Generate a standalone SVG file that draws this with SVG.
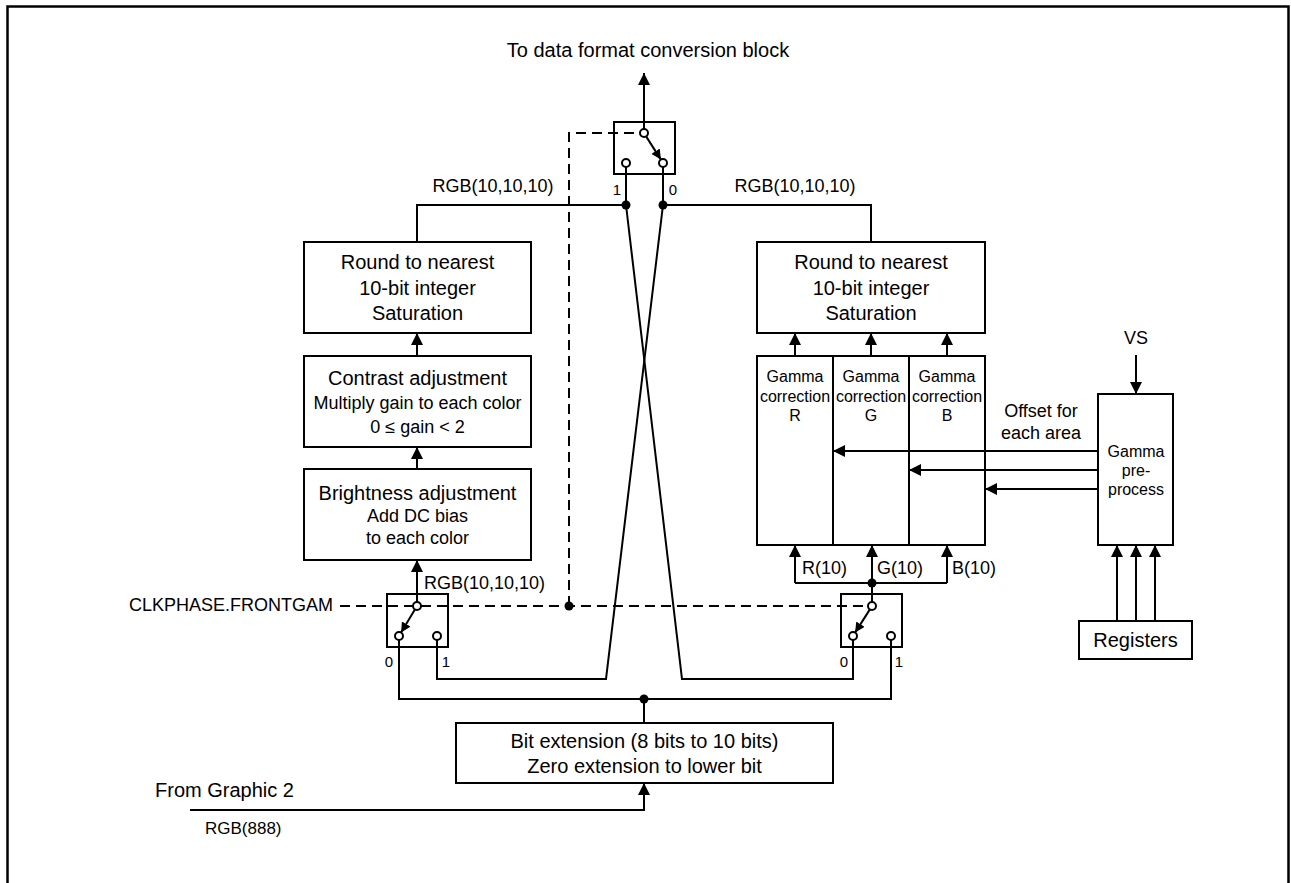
<svg xmlns="http://www.w3.org/2000/svg" width="1291" height="883" viewBox="0 0 1291 883">
<style>
.box{fill:#fff;stroke:#000;stroke-width:2}
.ln{fill:none;stroke:#000;stroke-width:2}
.dash{fill:none;stroke:#000;stroke-width:2;stroke-dasharray:10,6}
.term{fill:#fff;stroke:#000;stroke-width:2}
.dot{fill:#000}
text{font-family:"Liberation Sans",Arial,sans-serif;fill:#000}
.t20{font-size:20px;text-anchor:middle}
.t18{font-size:18px;text-anchor:middle}
.t16{font-size:16px;text-anchor:middle}
.t15{font-size:15px;text-anchor:middle}
.l18{font-size:18px}
</style>
<defs>
<marker id="ah" markerUnits="userSpaceOnUse" markerWidth="12" markerHeight="12" refX="12" refY="6" orient="auto">
<path d="M0,0 L12,6 L0,12 z" fill="#000"/>
</marker>
<marker id="ahs" markerUnits="userSpaceOnUse" markerWidth="10" markerHeight="10" refX="10" refY="5" orient="auto">
<path d="M0,0 L10,5 L0,10 z" fill="#000"/>
</marker>
</defs>
<rect width="1291" height="883" fill="#fff"/>
<path d="M7.5,883 V6.5 H1288.5 V883" fill="none" stroke="#000" stroke-width="2.5"/>

<g id="title"><text class="t20" x="648" y="57">To data format conversion block</text></g>

<g id="connectors">
<!-- top output -->
<line class="ln" x1="644" y1="129" x2="644" y2="73" marker-end="url(#ah)"/>
<!-- top switch terminals down -->
<line class="ln" x1="626" y1="167" x2="626" y2="205"/>
<line class="ln" x1="663" y1="167" x2="663" y2="205"/>
<polyline class="ln" points="626,205 417,205 417,242"/>
<polyline class="ln" points="663,205 871,205 871,242"/>
<!-- crossing -->
<polyline class="ln" points="626,205 682,679 853,679 853,640"/>
<polyline class="ln" points="663,205 606,679 437,679 437,640"/>
<!-- bottom distribution -->
<polyline class="ln" points="399,640 399,699 891,699 891,640"/>
<line class="ln" x1="644" y1="699" x2="644" y2="723"/>
<polyline class="ln" points="190,810 644,810 644,783" marker-end="url(#ah)"/>
<!-- left chain -->
<line class="ln" x1="417" y1="602" x2="417" y2="560" marker-end="url(#ah)"/>
<line class="ln" x1="417" y1="469" x2="417" y2="447" marker-end="url(#ah)"/>
<line class="ln" x1="417" y1="356" x2="417" y2="333" marker-end="url(#ah)"/>
<!-- right chain -->
<line class="ln" x1="872" y1="602" x2="872" y2="583"/>
<polyline class="ln" points="795,583 947,583"/>
<line class="ln" x1="795" y1="583" x2="795" y2="545" marker-end="url(#ah)"/>
<line class="ln" x1="872" y1="583" x2="872" y2="545" marker-end="url(#ah)"/>
<line class="ln" x1="947" y1="583" x2="947" y2="545" marker-end="url(#ah)"/>
<line class="ln" x1="795" y1="356" x2="795" y2="333" marker-end="url(#ah)"/>
<line class="ln" x1="871" y1="356" x2="871" y2="333" marker-end="url(#ah)"/>
<line class="ln" x1="947" y1="356" x2="947" y2="333" marker-end="url(#ah)"/>
<!-- gamma pre-process offsets -->
<line class="ln" x1="1098" y1="451" x2="833" y2="451" marker-end="url(#ah)"/>
<line class="ln" x1="1098" y1="470" x2="909" y2="470" marker-end="url(#ah)"/>
<line class="ln" x1="1098" y1="489" x2="985" y2="489" marker-end="url(#ah)"/>
<line class="ln" x1="1136" y1="355" x2="1136" y2="394" marker-end="url(#ah)"/>
<line class="ln" x1="1117" y1="621" x2="1117" y2="545" marker-end="url(#ah)"/>
<line class="ln" x1="1136" y1="621" x2="1136" y2="545" marker-end="url(#ah)"/>
<line class="ln" x1="1155" y1="621" x2="1155" y2="545" marker-end="url(#ah)"/>
<!-- control dashed -->
<polyline class="dash" points="340,606 413,606"/>
<polyline class="dash" points="421,606 868,606"/>
<polyline class="dash" points="569,606 569,133 640,133"/>
</g>

<g id="top-switch">
<rect class="box" x="614" y="122" width="61" height="52" fill="none" style="fill:none"/>
<line class="ln" x1="646.1" y1="136.4" x2="660.9" y2="159.6" marker-end="url(#ahs)"/>
<circle class="term" cx="644" cy="133" r="4"/>
<circle class="term" cx="626" cy="163" r="4"/>
<circle class="term" cx="663" cy="163" r="4"/>
<text class="t15" x="617" y="195">1</text>
<text class="t15" x="673" y="195">0</text>
</g>

<g id="left-switch">
<rect class="box" x="387" y="594" width="61" height="53" style="fill:none"/>
<line class="ln" x1="414.9" y1="609.4" x2="401.1" y2="632.6" marker-end="url(#ahs)"/>
<circle class="term" cx="417" cy="606" r="4"/>
<circle class="term" cx="399" cy="636" r="4"/>
<circle class="term" cx="437" cy="636" r="4"/>
<text class="t15" x="389" y="667">0</text>
<text class="t15" x="446" y="667">1</text>
</g>

<g id="right-switch">
<rect class="box" x="841" y="594" width="61" height="53" style="fill:none"/>
<line class="ln" x1="869.9" y1="609.4" x2="855.1" y2="632.6" marker-end="url(#ahs)"/>
<circle class="term" cx="872" cy="606" r="4"/>
<circle class="term" cx="853" cy="636" r="4"/>
<circle class="term" cx="891" cy="636" r="4"/>
<text class="t15" x="844" y="667">0</text>
<text class="t15" x="899" y="667">1</text>
</g>

<g id="dots">
<circle class="dot" cx="626" cy="205" r="4.5"/>
<circle class="dot" cx="663" cy="205" r="4.5"/>
<circle class="dot" cx="569" cy="606" r="4.5"/>
<circle class="dot" cx="644" cy="699" r="4.5"/>
<circle class="dot" cx="872" cy="583" r="4.5"/>
</g>

<g id="left-round">
<rect class="box" x="304" y="242" width="227" height="91"/>
<text class="t20" x="417.5" y="269">Round to nearest</text>
<text class="t20" x="417.5" y="295">10-bit integer</text>
<text class="t20" x="417.5" y="320">Saturation</text>
</g>
<g id="contrast">
<rect class="box" x="304" y="356" width="227" height="91"/>
<text class="t20" x="417.5" y="385">Contrast adjustment</text>
<text class="t18" x="417.5" y="409">Multiply gain to each color</text>
<text class="t18" x="417.5" y="433">0 ≤ gain &lt; 2</text>
</g>
<g id="brightness">
<rect class="box" x="304" y="469" width="227" height="91"/>
<text class="t20" x="417.5" y="500">Brightness adjustment</text>
<text class="t18" x="417.5" y="522">Add DC bias</text>
<text class="t18" x="417.5" y="544">to each color</text>
</g>

<g id="right-round">
<rect class="box" x="757" y="242" width="228" height="91"/>
<text class="t20" x="871" y="269">Round to nearest</text>
<text class="t20" x="871" y="295">10-bit integer</text>
<text class="t20" x="871" y="320">Saturation</text>
</g>
<g id="gamma-r">
<rect class="box" x="757" y="356" width="76" height="189" style="fill:none"/>
<text class="t16" x="795" y="382">Gamma</text>
<text class="t16" x="795" y="402">correction</text>
<text class="t16" x="795" y="421">R</text>
</g>
<g id="gamma-g">
<rect class="box" x="833" y="356" width="76" height="189" style="fill:none"/>
<text class="t16" x="871" y="382">Gamma</text>
<text class="t16" x="871" y="402">correction</text>
<text class="t16" x="871" y="421">G</text>
</g>
<g id="gamma-b">
<rect class="box" x="909" y="356" width="76" height="189" style="fill:none"/>
<text class="t16" x="947" y="382">Gamma</text>
<text class="t16" x="947" y="402">correction</text>
<text class="t16" x="947" y="421">B</text>
</g>

<g id="gamma-preprocess">
<rect class="box" x="1098" y="394" width="75" height="151"/>
<text class="t16" x="1136" y="457">Gamma</text>
<text class="t16" x="1136" y="476">pre-</text>
<text class="t16" x="1136" y="495">process</text>
</g>
<g id="registers">
<rect class="box" x="1079" y="621" width="113" height="38"/>
<text class="t20" x="1135.5" y="647">Registers</text>
</g>
<g id="bit-extension">
<rect class="box" x="456" y="723" width="377" height="60"/>
<text class="t20" x="644.5" y="748">Bit extension (8 bits to 10 bits)</text>
<text class="t20" x="644.5" y="773">Zero extension to lower bit</text>
</g>

<g id="labels">
<text class="t18" x="493" y="192">RGB(10,10,10)</text>
<text class="t18" x="795" y="192">RGB(10,10,10)</text>
<text class="l18" x="424" y="589">RGB(10,10,10)</text>
<text class="l18" x="333" y="611" text-anchor="end">CLKPHASE.FRONTGAM</text>
<text class="l18" x="802" y="574">R(10)</text>
<text class="l18" x="877" y="574">G(10)</text>
<text class="l18" x="952" y="574">B(10)</text>
<text class="t18" x="1041" y="417">Offset for</text>
<text class="t18" x="1041" y="439">each area</text>
<text class="t18" x="1136" y="344">VS</text>
<text style="font-size:20px" x="155" y="797">From Graphic 2</text>
<text style="font-size:17px" x="205" y="834">RGB(888)</text>
</g>
</svg>
